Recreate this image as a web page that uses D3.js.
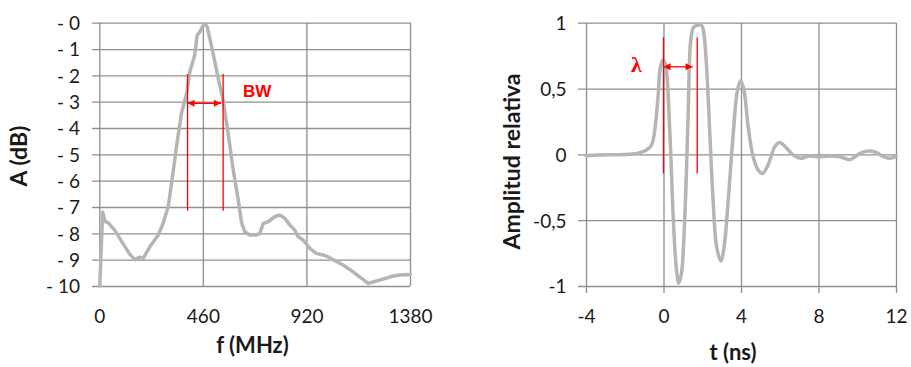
<!DOCTYPE html>
<html>
<head>
<meta charset="utf-8">
<script src="https://cdn.jsdelivr.net/npm/d3@7"></script>
<style>
  html, body { margin: 0; padding: 0; background: #ffffff; }
  svg { display: block; }
  .tick text { font-family: Lato, "Open Sans", sans-serif; font-size: 19px; fill: #1a1a1a; }
  .title { font-family: Lato, "Open Sans", sans-serif; font-size: 22px; font-weight: bold; fill: #1a1a1a; }
</style>
</head>
<body>
<svg id="chart" width="911" height="367"></svg>
<script>
// ---- Spectrum (left panel): frequency in MHz, attenuation in dB ----
const freqMHz = [2, 15, 25, 40, 70, 106, 136, 158, 180, 195, 225, 262, 284, 306, 321, 343, 365, 388, 402,
  424, 435, 447, 458, 469, 479, 494, 513, 528, 550, 572, 595, 617, 632, 646, 668, 698, 713, 728, 750,
  779, 801, 824, 846, 868, 883, 905, 935, 964, 994, 1016, 1038, 1083, 1127, 1164, 1194, 1231, 1275,
  1305, 1335, 1381];
const attenDB = [-10, -7.2, -7.55, -7.6, -7.9, -8.4, -8.8, -9.0, -8.9, -8.95, -8.5, -8.06, -7.6, -6.99,
  -6.1, -4.7, -3.44, -2.68, -1.86, -1.23, -0.47, -0.34, -0.15, -0.05, -0.15, -0.72, -1.48, -2.11,
  -2.94, -4.2, -5.6, -6.73, -7.6, -7.94, -8.06, -8.06, -8.0, -7.62, -7.56, -7.37, -7.3, -7.43, -7.68,
  -7.87, -8.13, -8.25, -8.57, -8.76, -8.82, -8.89, -9.0, -9.2, -9.46, -9.7, -9.9, -9.81, -9.7, -9.62,
  -9.58, -9.56];
const freqTicks = [0, 460, 920, 1380];
const dbTicks = [0, -1, -2, -3, -4, -5, -6, -7, -8, -9, -10];
const dbTickLabels = ["- 0", "- 1", "- 2", "- 3", "- 4", "- 5", "- 6", "- 7", "- 8", "- 9", "- 10"];
// bandwidth markers: edges (MHz), vertical extent (dB), arrow level and end (dB / MHz)
const bwEdges = [392, 550];
const bwSpan = [-1.95, -7.14];
const bwArrow = { from: 392, to: 540, level: -3.06 };

// ---- Pulse (right panel): time in ns, relative amplitude ----
const timeNs = [-4, -3.29, -1.74, -1.22, -0.88, -0.62, -0.45, -0.28, -0.15, 0, 0.12, 0.33, 0.5, 0.67,
  0.79, 0.93, 1.1, 1.27, 1.39, 1.53, 1.7, 1.96, 2.08, 2.22, 2.39, 2.56, 2.74, 2.96, 3.13, 3.34, 3.6,
  3.82, 3.98, 4.15, 4.37, 4.63, 4.89, 5.11, 5.4, 5.75, 6.0, 6.27, 6.7, 7.13, 7.47, 7.9, 8.59, 9.1,
  9.62, 9.88, 10.22, 10.65, 11.0, 11.34, 11.69, 12];
const amplitude = [-0.01, -0.005, 0, 0.013, 0.033, 0.07, 0.185, 0.44, 0.67, 0.72, 0.67, 0.16, -0.47,
  -0.88, -0.98, -0.9, -0.47, 0.29, 0.84, 0.96, 0.98, 0.98, 0.92, 0.67, 0.16, -0.35, -0.7, -0.81, -0.7,
  -0.35, 0.16, 0.49, 0.56, 0.49, 0.21, -0.02, -0.12, -0.145, -0.08, 0.06, 0.09, 0.06, -0.005, -0.03,
  -0.013, -0.018, -0.013, -0.018, -0.04, -0.018, 0.013, 0.025, 0.013, -0.018, -0.03, -0.018];
const timeTicks = [-4, 0, 4, 8, 12];
const timeTickLabels = ["-4", "0", "4", "8", "12"];
const ampTicks = [1, 0.5, 0, -0.5, -1];
const ampTickLabels = ["1", "0,5", "0", "-0,5", "-1"];
// wavelength markers
const lambdaEdges = [0, 1.74];
const lambdaSpan = [0.89, -0.145];
const lambdaArrow = { from: 0, to: 1.5, level: 0.665 };

const svg = d3.select("#chart");
const gridColor = "#8f8f8f";
const curveColor = "#b5b5b5";
const red = "#ff0000";

// arrowheads for the red double arrows
const defs = svg.append("defs");
["start", "end"].forEach(kind => {
  defs.append("marker")
    .attr("id", "arrow-" + kind)
    .attr("viewBox", "0 0 10 10")
    .attr("refX", kind === "end" ? 10 : 0)
    .attr("refY", 5)
    .attr("markerWidth", 9)
    .attr("markerHeight", 7)
    .attr("markerUnits", "userSpaceOnUse")
    .attr("orient", "auto")
    .append("path")
    .attr("d", kind === "end" ? "M0,0 L10,5 L0,10 Z" : "M10,0 L0,5 L10,10 Z")
    .attr("fill", red);
});

function styleGrid(g) {
  g.select(".domain").remove();
  g.selectAll(".tick line").attr("stroke", gridColor).attr("stroke-width", 1.3);
}

// ===== Left panel =====
const plotTop = 22.7, plotBottom = 286;
const xF = d3.scaleLinear().domain([0, 1380]).range([99.3, 410]);
const yA = d3.scaleLinear().domain([-10, 0]).range([plotBottom, plotTop]);

const left = svg.append("g");
left.append("g")
  .attr("transform", "translate(92,0)")
  .call(d3.axisLeft(yA).tickValues(dbTicks)
    .tickFormat((d, i) => dbTickLabels[i])
    .tickSizeInner(-(410 - 92)).tickSizeOuter(0).tickPadding(12))
  .call(styleGrid)
  .selectAll("text").attr("dy", "0.36em");

left.append("g")
  .attr("transform", `translate(0,${plotBottom})`)
  .call(d3.axisBottom(xF).tickValues(freqTicks).tickFormat(d3.format("d"))
    .tickSizeInner(-(plotBottom - plotTop)).tickSizeOuter(0))
  .call(styleGrid)
  .selectAll("text").attr("y", 37).attr("dy", 0);

left.append("path")
  .datum(freqMHz.map((f, i) => [f, attenDB[i]]))
  .attr("fill", "none")
  .attr("stroke", curveColor)
  .attr("stroke-width", 3.5)
  .attr("stroke-linejoin", "round")
  .attr("stroke-linecap", "round")
  .attr("d", d3.line().x(d => xF(d[0])).y(d => yA(d[1])));

left.selectAll("line.bw")
  .data(bwEdges).join("line")
  .attr("class", "bw")
  .attr("x1", d => xF(d)).attr("x2", d => xF(d))
  .attr("y1", yA(bwSpan[0])).attr("y2", yA(bwSpan[1]))
  .attr("stroke", red).attr("stroke-width", 1.3);
left.append("line")
  .attr("x1", xF(bwArrow.from)).attr("x2", xF(bwArrow.to))
  .attr("y1", yA(bwArrow.level)).attr("y2", yA(bwArrow.level))
  .attr("stroke", red).attr("stroke-width", 1.3)
  .attr("marker-start", "url(#arrow-start)")
  .attr("marker-end", "url(#arrow-end)");
left.append("text")
  .attr("x", 243).attr("y", 97)
  .attr("font-family", "'Liberation Sans', Arial, sans-serif")
  .attr("font-size", 17).attr("font-weight", "bold")
  .attr("fill", red)
  .text("BW");

left.append("text").attr("class", "title")
  .attr("x", 252.5).attr("y", 353).attr("text-anchor", "middle")
  .text("f (MHz)");
left.append("text").attr("class", "title")
  .attr("transform", "translate(27,156) rotate(-90)")
  .attr("text-anchor", "middle")
  .style("font-size", "23px")
  .text("A (dB)");

// ===== Right panel =====
const xT = d3.scaleLinear().domain([-4, 12]).range([586, 896]);
const yR = d3.scaleLinear().domain([-1, 1]).range([plotBottom, plotTop]);

const right = svg.append("g");
right.append("g")
  .attr("transform", "translate(578,0)")
  .call(d3.axisLeft(yR).tickValues(ampTicks)
    .tickFormat((d, i) => ampTickLabels[i])
    .tickSizeInner(-(896 - 578)).tickSizeOuter(0).tickPadding(11.5))
  .call(styleGrid)
  .selectAll("text").attr("dy", "0.36em");

right.append("g")
  .attr("transform", `translate(0,${plotBottom + 7})`)
  .call(d3.axisBottom(xT).tickValues(timeTicks)
    .tickFormat((d, i) => timeTickLabels[i])
    .tickSizeInner(-(plotBottom + 7 - plotTop)).tickSizeOuter(0))
  .call(styleGrid)
  .selectAll("text").attr("y", 30).attr("dy", 0);

right.append("path")
  .datum(timeNs.map((t, i) => [t, amplitude[i]]))
  .attr("fill", "none")
  .attr("stroke", curveColor)
  .attr("stroke-width", 3.5)
  .attr("stroke-linejoin", "round")
  .attr("stroke-linecap", "round")
  .attr("d", d3.line().curve(d3.curveCatmullRom.alpha(0.5)).x(d => xT(d[0])).y(d => yR(d[1])));

right.selectAll("line.lambda")
  .data(lambdaEdges).join("line")
  .attr("class", "lambda")
  .attr("x1", d => xT(d)).attr("x2", d => xT(d))
  .attr("y1", yR(lambdaSpan[0])).attr("y2", yR(lambdaSpan[1]))
  .attr("stroke", red).attr("stroke-width", 1.3);
right.append("line")
  .attr("x1", xT(lambdaArrow.from)).attr("x2", xT(lambdaArrow.to))
  .attr("y1", yR(lambdaArrow.level)).attr("y2", yR(lambdaArrow.level))
  .attr("stroke", red).attr("stroke-width", 1.3)
  .attr("marker-start", "url(#arrow-start)")
  .attr("marker-end", "url(#arrow-end)");
right.append("text")
  .attr("x", 631).attr("y", 71.5)
  .attr("font-family", "'Liberation Serif', 'DejaVu Serif', serif")
  .attr("font-size", 22).attr("font-weight", "bold")
  .attr("fill", red)
  .text("λ");

right.append("text").attr("class", "title")
  .attr("x", 733).attr("y", 360).attr("text-anchor", "middle")
  .text("t (ns)");
right.append("text").attr("class", "title")
  .attr("transform", "translate(520,161.5) rotate(-90)")
  .attr("text-anchor", "middle")
  .style("font-size", "23px")
  .text("Amplitud relativa");
</script>
</body>
</html>
